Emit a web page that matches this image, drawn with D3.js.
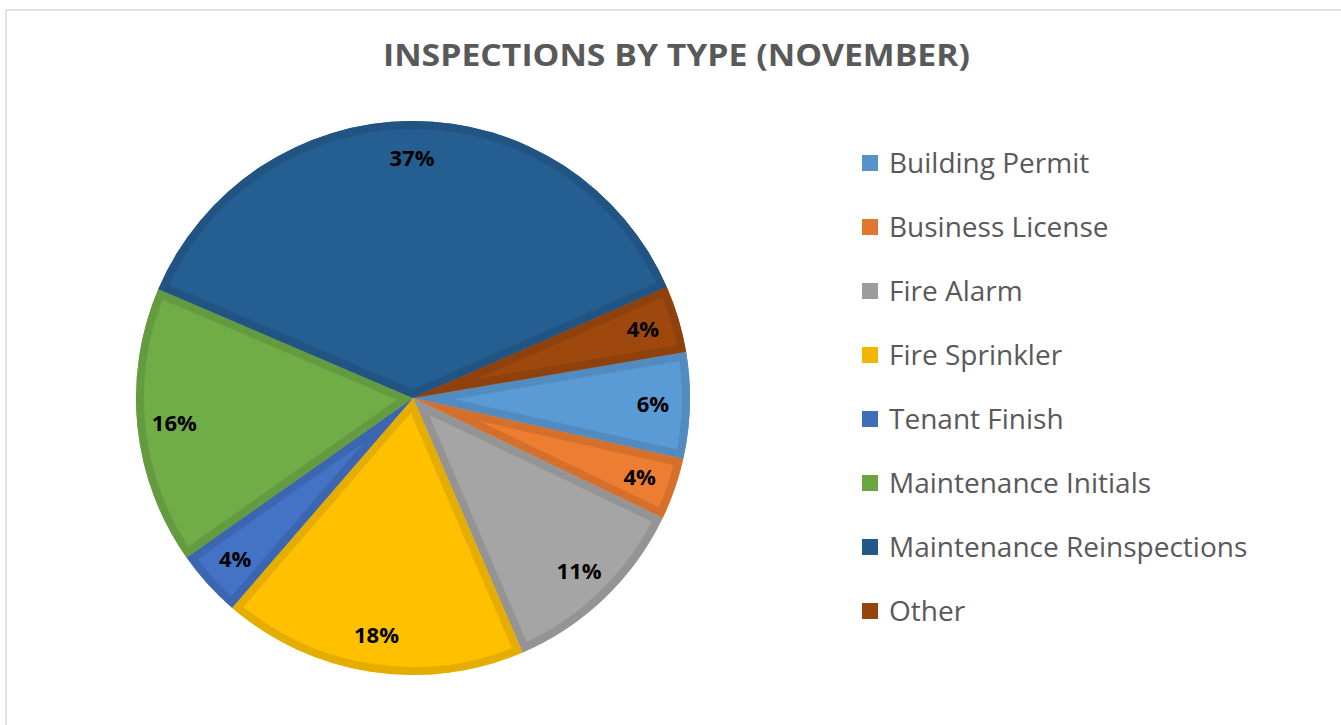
<!DOCTYPE html>
<html><head><meta charset="utf-8">
<script src="https://cdn.jsdelivr.net/npm/d3@7"></script>
<style>body{margin:0;background:#fff}svg{display:block}</style>
</head><body>
<svg id="c" width="1341" height="725"></svg>
<script>
const categories = ["Building Permit","Business License","Fire Alarm","Fire Sprinkler","Tenant Finish","Maintenance Initials","Maintenance Reinspections","Other"];
const values = [6.2, 3.6, 11.4, 17.8, 3.9, 16.2, 37.0, 3.9];
const colors = ["#5B9BD5","#ED7D31","#A5A5A5","#FFC000","#4472C4","#70AD47","#255E91","#9E480E"];
const title = "INSPECTIONS BY TYPE (NOVEMBER)";

const svg = d3.select("#c");
svg.append("rect").attr("x",6).attr("y",10).attr("width",1345).attr("height",730)
  .attr("fill","#fff").attr("stroke","#D9D9D9").attr("stroke-width",1.5);

svg.append("text").attr("x",383).attr("y",66)
  .attr("font-family","Open Sans").attr("font-weight","bold").attr("font-size",31)
  .attr("textLength",587).attr("lengthAdjust","spacingAndGlyphs")
  .attr("fill","#595959").text(title);

const cx=413, cy=398, r=277;
const start = 80.4*Math.PI/180;
const pie = d3.pie().sort(null).startAngle(start).endAngle(start+2*Math.PI);
const arcs = pie(values);
const arc = d3.arc().innerRadius(0).outerRadius(r);
const g = svg.append("g").attr("transform",`translate(${cx},${cy})`);
const defs = svg.append("defs");
arcs.forEach((a,i)=>{
  defs.append("clipPath").attr("id","cl"+i).append("path").attr("d",arc(a));
});
const sl = g.selectAll("g.s").data(arcs).join("g").attr("class","s");
sl.append("path").attr("d",arc).attr("fill",(d,i)=>colors[i]);
sl.append("path").attr("d",arc).attr("fill","none")
  .attr("stroke",(d,i)=>d3.color(colors[i]).darker(0.3))
  .attr("stroke-width",16).attr("stroke-linejoin","miter")
  .attr("clip-path",(d,i)=>`url(#cl${i})`);

const lr = 240;
sl.append("text").attr("text-anchor","middle").attr("dy","0.35em")
  .attr("x",d=>lr*Math.sin((d.startAngle+d.endAngle)/2))
  .attr("y",d=>-lr*Math.cos((d.startAngle+d.endAngle)/2))
  .attr("font-family","Open Sans").attr("font-weight","bold").attr("font-size",22)
  .attr("fill","#000").text(d=>Math.round(d.data)+"%");

const lg = svg.append("g");
const rows = lg.selectAll("g").data(categories).join("g")
  .attr("transform",(d,i)=>`translate(862,${163+i*64})`);
rows.append("rect").attr("x",0).attr("y",-8).attr("width",16).attr("height",16)
  .attr("fill",(d,i)=>d3.color(colors[i]).darker(0.15));
rows.append("text").attr("x",27).attr("dy","0.35em")
  .attr("font-family","Open Sans").attr("font-size",28).attr("fill","#595959").text(d=>d);
</script>
</body></html>
